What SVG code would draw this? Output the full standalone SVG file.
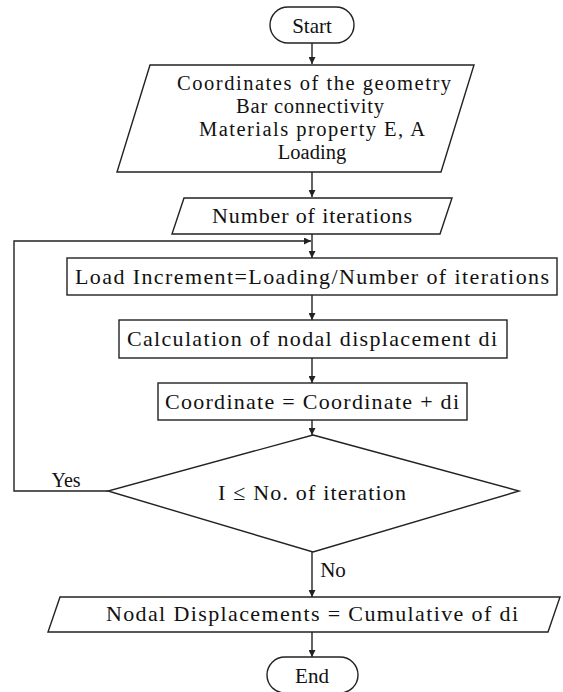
<svg xmlns="http://www.w3.org/2000/svg" width="563" height="692" viewBox="0 0 563 692">
<defs>
<marker id="ah" viewBox="0 0 10 10" refX="10" refY="5" markerWidth="7" markerHeight="7" markerUnits="userSpaceOnUse" orient="auto">
<path d="M0,0 L10,5 L0,10 Z" fill="#222"/>
</marker>
<style>
.s{fill:#fff;stroke:#222;stroke-width:1.4}
.t{font-family:"Liberation Serif","Times New Roman",serif;font-size:22px;fill:#111;text-anchor:middle}
.p{font-size:20.5px}
.c{fill:none;stroke:#222;stroke-width:1.4}
</style>
</defs>
<rect width="563" height="692" fill="#fff"/>
<g id="connectors">
<line class="c" x1="312" y1="43" x2="312" y2="64" marker-end="url(#ah)"/>
<line class="c" x1="312" y1="172" x2="312" y2="197" marker-end="url(#ah)"/>
<line class="c" x1="312" y1="234" x2="312" y2="258" marker-end="url(#ah)"/>
<line class="c" x1="312" y1="295" x2="312" y2="320" marker-end="url(#ah)"/>
<line class="c" x1="312" y1="358" x2="312" y2="383" marker-end="url(#ah)"/>
<line class="c" x1="312" y1="420" x2="312" y2="435" marker-end="url(#ah)"/>
<polyline class="c" points="108,491 14,491 14,241 311,241" marker-end="url(#ah)"/>
<line class="c" x1="312" y1="552" x2="312" y2="597" marker-end="url(#ah)"/>
<line class="c" x1="312" y1="632" x2="312" y2="657" marker-end="url(#ah)"/>
<text class="t" x="66" y="487" style="font-size:20px">Yes</text>
<text class="t" x="333" y="577" style="font-size:21px">No</text>
</g>
<g id="start">
<rect class="s" x="270" y="7" width="84" height="36" rx="18"/>
<text class="t" x="312" y="33" style="font-size:21px">Start</text>
</g>
<g id="input">
<polygon class="s" points="150,65 474,65 441,172 117,172"/>
<text class="t p" x="314" y="90" textLength="274">Coordinates of the geometry</text>
<text class="t p" x="310" y="113" textLength="148">Bar connectivity</text>
<text class="t p" x="312" y="136" textLength="226">Materials property E, A</text>
<text class="t p" x="312" y="159">Loading</text>
</g>
<g id="iterations">
<polygon class="s" points="184,198 452,198 440,234 172,234"/>
<text class="t" x="312" y="223" textLength="200">Number of iterations</text>
</g>
<g id="increment">
<rect class="s" x="67" y="258" width="490" height="37"/>
<text class="t" x="312" y="284" textLength="474">Load Increment=Loading/Number  of iterations</text>
</g>
<g id="calc">
<rect class="s" x="119" y="320" width="388" height="38"/>
<text class="t" x="312" y="346" textLength="370">Calculation of nodal displacement  di</text>
</g>
<g id="coord">
<rect class="s" x="158" y="383" width="309" height="37"/>
<text class="t" x="312" y="409" textLength="294">Coordinate = Coordinate + di</text>
</g>
<g id="decision">
<polygon class="s" points="313,435 519,491 313,552 108,491"/>
<text class="t" x="312" y="500" textLength="188">I ≤ No. of iteration</text>
</g>
<g id="output">
<polygon class="s" points="60,597 560,597 548,632 48,632"/>
<text class="t" x="312" y="621" textLength="412">Nodal Displacements  = Cumulative of di</text>
</g>
<g id="end">
<rect class="s" x="267" y="657" width="91" height="36" rx="18"/>
<text class="t" x="312" y="683" style="font-size:21px">End</text>
</g>
</svg>
